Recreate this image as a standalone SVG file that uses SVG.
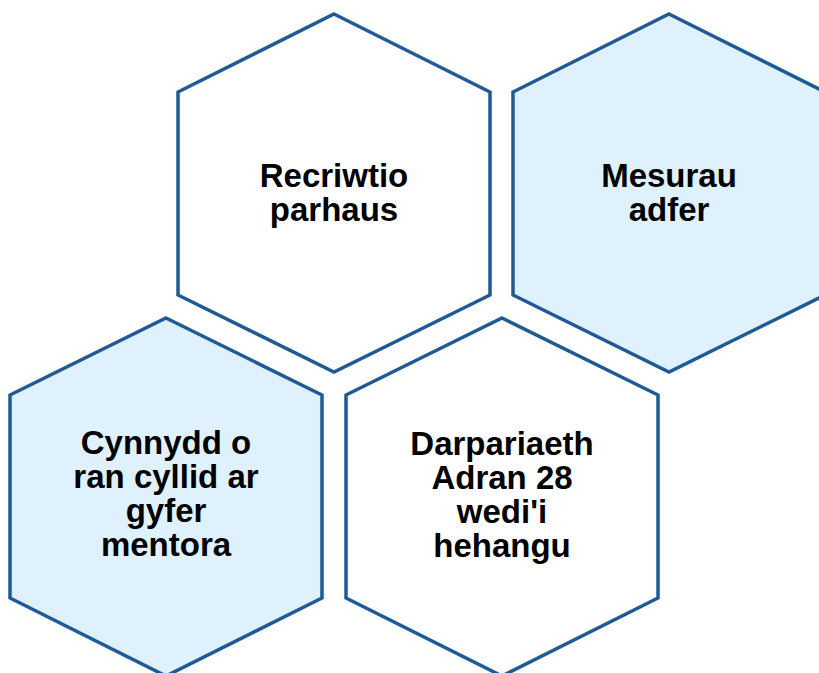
<svg xmlns="http://www.w3.org/2000/svg" width="819" height="673" viewBox="0 0 819 673">
<style>
.hex{stroke:#1f5a94;stroke-width:3.5;stroke-linejoin:miter}
.w{fill:#ffffff}
.b{fill:#dff1fd}
.t{font-family:"Liberation Sans",Arial,sans-serif;font-weight:bold;font-size:33px;fill:#000;text-anchor:middle}
</style>
<rect width="819" height="673" fill="#ffffff"/>
<g id="hex-recriwtio">
<polygon class="hex w" points="334,14 490,92 490,295 334,372 178,295 178,92"/>
<text class="t" x="334" y="187">Recriwtio</text>
<text class="t" x="334" y="221">parhaus</text>
</g>
<g id="hex-mesurau">
<polygon class="hex b" points="669,14 825,92 825,295 669,372 513,295 513,92"/>
<text class="t" x="669" y="187">Mesurau</text>
<text class="t" x="669" y="221">adfer</text>
</g>
<g id="hex-cynnydd">
<polygon class="hex b" points="166,318 322,395 322,598 166,676 10,598 10,395"/>
<text class="t" x="166" y="454">Cynnydd o</text>
<text class="t" x="166" y="488">ran cyllid ar</text>
<text class="t" x="166" y="522">gyfer</text>
<text class="t" x="166" y="556">mentora</text>
</g>
<g id="hex-darpariaeth">
<polygon class="hex w" points="502,318 658,395 658,598 502,676 346,598 346,395"/>
<text class="t" x="502" y="455">Darpariaeth</text>
<text class="t" x="502" y="489">Adran 28</text>
<text class="t" x="502" y="523">wedi'i</text>
<text class="t" x="502" y="557">hehangu</text>
</g>
<g id="connectors"></g>
</svg>
